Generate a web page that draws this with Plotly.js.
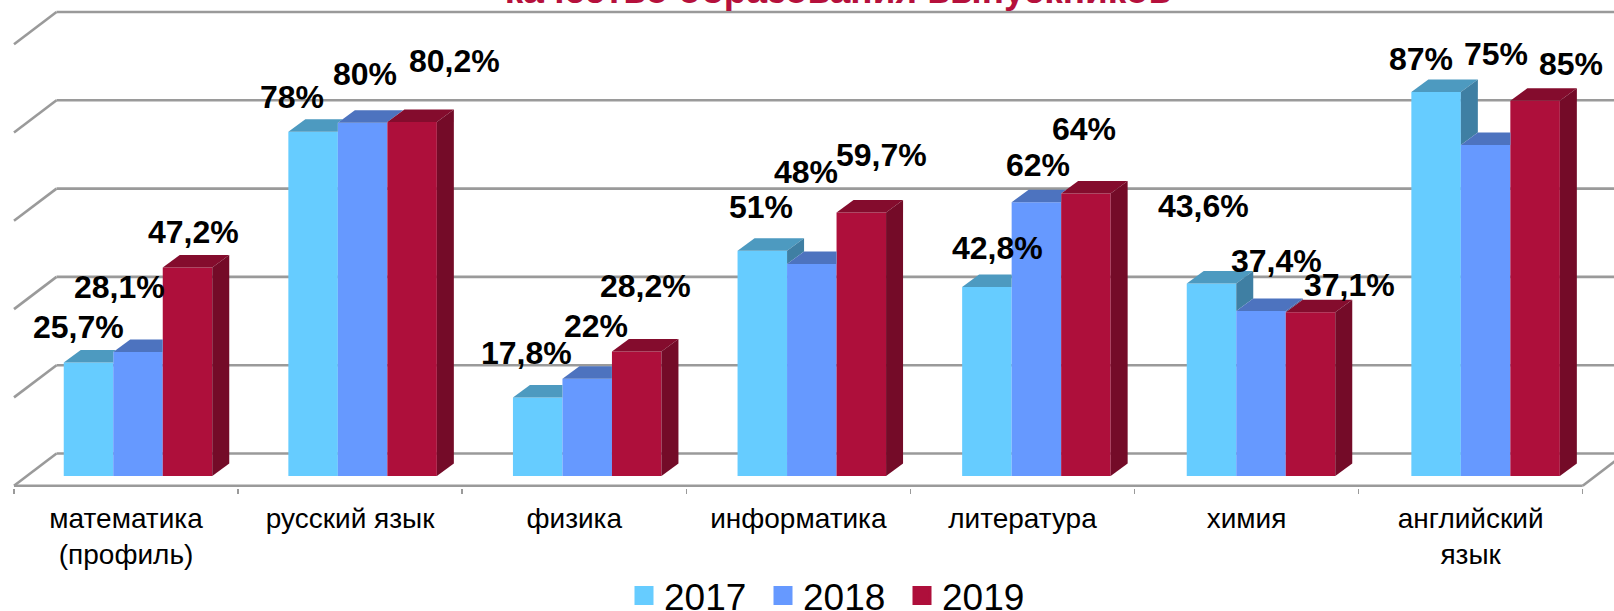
<!DOCTYPE html>
<html>
<head>
<meta charset="utf-8">
<script src="https://cdn.plot.ly/plotly-3.0.1.min.js"></script>
<style>html,body{margin:0;padding:0;background:#fff;overflow:hidden}</style>
</head>
<body>
<div id="chart" style="width:1614px;height:611px"></div>
<script>
// ---- data ----
const categories = ["математика<br>(профиль)", "русский язык", "физика", "информатика", "литература", "химия", "английский<br>язык"];
const years = ["2017", "2018", "2019"];
const values2017 = [25.7, 78, 17.8, 51, 42.8, 43.6, 87];
const values2018 = [28.1, 80, 22, 48, 62, 37.4, 75];
const values2019 = [47.2, 80.2, 28.2, 59.7, 64, 37.1, 85];
const labels2017 = ["25,7%", "78%", "17,8%", "51%", "42,8%", "43,6%", "87%"];
const labels2018 = ["28,1%", "80%", "22%", "48%", "62%", "37,4%", "75%"];
const labels2019 = ["47,2%", "80,2%", "28,2%", "59,7%", "64%", "37,1%", "85%"];
const gridValues = [0, 20, 40, 60, 80, 100];
const titleText = "качество образования выпускников";

// ---- hand-placed data label offsets (px from the top centre of each bar) ----
const shiftX = [[-10, -21, -11, -1, 11, -8, -15], [-19, 2, 9, -6, 2, 15, 10], [6, 42.5, 9, 20, -2, 39, 36]];
const shiftY = [[35.5, 34.6, 44, 44, 39, 77.5, 33], [65, 49, 53, 92, 37, 49.5, 91], [36, 61, 65.5, 57, 64, 27, 37]];

// ---- style ----
const frontColors = ["#66CCFF", "#6699FF", "#AE0F3B"];
const topColors = ["#4D9AC0", "#4D73BF", "#840C2D"];
const sideColors = ["#3F7FA3", "#3F5EA0", "#740B28"];
const gridColor = "#9A9A9A";

// ---- geometry: px scales of the drawing ----
const W = 1614, H = 611;
const catPx = 224.1, axisLeftPx = 14;           // category band on the x axis
const unitPx = 4.415, basePx = 476, plotBottomPx = 488; // px per percent, y of value 0
const barPitchPx = 224.6, firstBarPx = 138, barPx = 49.5;
const xRange = [-0.5 - axisLeftPx / catPx, (W - axisLeftPx) / catPx - 0.5];
const yRange = [(basePx - plotBottomPx) / unitPx, basePx / unitPx];
const pxX = p => (p - axisLeftPx) / catPx - 0.5;

const depthX = 17 / catPx, depthY = 12.5 / unitPx;     // bar depth
const wallX = 42.5 / catPx, wallY = 22.5 / unitPx;     // back wall offset from bar base
const floorY = -9.7 / unitPx, floorDrop = 32.2 / unitPx;

const series = [values2017, values2018, values2019];
const labels = [labels2017, labels2018, labels2019];
const barW = barPx / catPx;
const barCentre = (i, s) => pxX(firstBarPx + barPitchPx * i + (s - 1) * barPx);

const traces = [];
// Front faces
series.forEach((vals, s) => {
  traces.push({
    type: "bar", x: vals.map((_, i) => barCentre(i, s)), y: vals, width: barW,
    marker: {color: frontColors[s], line: {width: 0}},
    showlegend: false, hoverinfo: "y"
  });
});
// Visible top and side faces
const poly = (xs, ys, color) => traces.push({
  type: "scatter", mode: "lines", x: xs.concat(xs[0]), y: ys.concat(ys[0]),
  fill: "toself", fillcolor: color, line: {width: 0, color: color},
  showlegend: false, hoverinfo: "skip"
});
series.forEach((vals, s) => {
  vals.forEach((v, i) => {
    const xl = barCentre(i, s) - barW / 2, xr = xl + barW;
    const next = s < 2 ? series[s + 1][i] : null;
    // top face, cut where a taller right-hand neighbour hides it
    if (next !== null && next > v) {
      const k = next >= v + depthY ? 0 : (v + depthY - next) / depthY * depthX;
      const cutY = Math.min(next, v + depthY);
      poly([xl, xr, xr, xr + k, xl + depthX], [v, v, cutY, v + depthY, v + depthY], topColors[s]);
    } else {
      poly([xl, xr, xr + depthX, xl + depthX], [v, v, v + depthY, v + depthY], topColors[s]);
    }
    // side face, only above the right-hand neighbour
    const low = next === null ? 0 : next;
    if (v > low) {
      poly([xr, xr + depthX, xr + depthX, xr], [v, v + depthY, low + depthY, low], sideColors[s]);
    }
  });
});
// Legend entries
years.forEach((y, s) => traces.push({
  type: "scatter", mode: "markers", name: y, x: [null], y: [null],
  marker: {symbol: "square", size: 16, color: frontColors[s], line: {width: 3, color: frontColors[s]}},
  hoverinfo: "skip"
}));

// Back wall, side wall and floor lines
const gridLine = {color: gridColor, width: 2.6};
const shapes = [];
const seg = (x0, y0, x1, y1) => shapes.push({type: "line", layer: "below", xref: "x", yref: "y", x0, y0, x1, y1, line: gridLine});
const xStart = -0.5, xEnd = categories.length - 0.5;
gridValues.forEach(g => {
  seg(xStart + wallX, g + wallY, xRange[1], g + wallY);
  seg(xStart, g + wallY - floorDrop, xStart + wallX, g + wallY);
});
seg(xStart, floorY, xEnd, floorY);
seg(xEnd, floorY, xEnd + wallX, floorY + floorDrop);

// Data labels
const annotations = [];
series.forEach((vals, s) => vals.forEach((v, i) => annotations.push({
  x: barCentre(i, s), y: v, text: labels[s][i], showarrow: false,
  xanchor: "center", yanchor: "middle", xshift: shiftX[s][i], yshift: shiftY[s][i],
  font: {family: "Liberation Sans, Arial, sans-serif", size: 32, color: "#000", weight: 700}
})));

const layout = {
  width: W, height: H,
  margin: {l: 0, r: 0, t: 0, b: H - plotBottomPx, pad: 0},
  paper_bgcolor: "#fff", plot_bgcolor: "#fff",
  barmode: "overlay",
  showlegend: true,
  title: {
    text: "<b>" + titleText + "</b>",
    font: {family: "Liberation Sans, Arial, sans-serif", size: 37, color: "#B5103C"},
    x: 838 / W, xanchor: "center", xref: "container", y: 1 - 3 / H, yref: "container", yanchor: "bottom"
  },
  legend: {
    orientation: "h", x: 624 / W, xanchor: "left", y: 1 - 596 / H, yref: "container", yanchor: "middle",
    entrywidth: 94, entrywidthmode: "pixels", itemwidth: 30,
    font: {family: "Liberation Sans, Arial, sans-serif", size: 37, color: "#000"},
    bgcolor: "rgba(0,0,0,0)", traceorder: "normal"
  },
  xaxis: {
    range: xRange, fixedrange: true, zeroline: false, showgrid: false, showline: false,
    tickmode: "array", tickvals: categories.map((_, i) => i), ticktext: categories,
    ticks: "", ticklabelstandoff: 11, tickangle: 0,
    tickfont: {family: "Liberation Sans, Arial, sans-serif", size: 28, color: "#000"},
    minor: {
      tickmode: "array", tickvals: categories.map((_, i) => i - 0.5).concat(xEnd),
      ticks: "outside", ticklen: 5, tickwidth: 1.5, tickcolor: gridColor, showgrid: false
    }
  },
  yaxis: {range: yRange, fixedrange: true, visible: false},
  shapes, annotations
};
Plotly.newPlot("chart", traces, layout, {displayModeBar: false, staticPlot: true});
</script>
</body>
</html>
